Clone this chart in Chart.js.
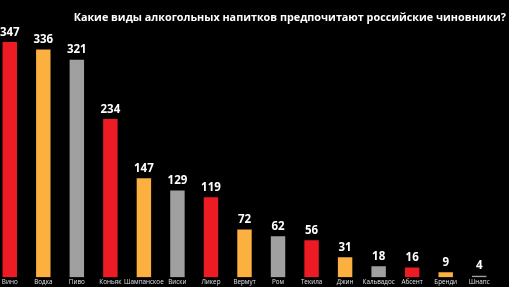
<!DOCTYPE html>
<html>
<head>
<meta charset="utf-8">
<script src="https://cdn.jsdelivr.net/npm/chart.js@4"></script>
<style>
  html, body { margin: 0; padding: 0; background: #000; overflow: hidden; }
  #wrap { position: absolute; left: -7px; top: 0; width: 513px; height: 287px; }
</style>
</head>
<body>
<div id="wrap"><canvas id="drinksChart"></canvas></div>
<script>
const drinks = ["Вино", "Водка", "Пиво", "Коньяк", "Шампанское", "Виски", "Ликер", "Вермут",
  "Ром", "Текила", "Джин", "Кальвадос", "Абсент", "Бренди", "Шнапс"];
const votes = [347, 336, 321, 234, 147, 129, 119, 72, 62, 56, 31, 18, 16, 9, 4];
const palette = ["#ed1c24", "#fbb040", "#a0a0a0"];

const barColors = drinks.map((d, i) => palette[i % 3]);

// draws the numbers above each bar
const valueLabels = {
  id: "valueLabels",
  afterDatasetsDraw(chart) {
    const ctx = chart.ctx;
    const meta = chart.getDatasetMeta(0);
    ctx.save();
    ctx.fillStyle = "#fff";
    ctx.font = "bold 11.5px 'Open Sans'";
    ctx.textAlign = "center";
    ctx.textBaseline = "bottom";
    meta.data.forEach((bar, i) => {
      ctx.fillText(votes[i], bar.x, bar.y - 3);
    });
    ctx.restore();
  }
};

new Chart(document.getElementById("drinksChart"), {
  type: "bar",
  data: {
    labels: drinks,
    datasets: [{
      data: votes,
      backgroundColor: barColors,
      borderColor: "rgba(0,0,0,0.25)",
      borderWidth: 1,
      categoryPercentage: 1,
      barPercentage: 0.49
    }]
  },
  options: {
    responsive: true,
    maintainAspectRatio: false,
    animation: false,
    layout: {
      padding: 0
    },
    plugins: {
      legend: { display: false },
      tooltip: { enabled: false },
      title: {
        display: true,
        text: "Какие виды алкогольных напитков предпочитают российские чиновники?",
        align: "end",
        color: "#fff",
        font: { family: "'Open Sans'", size: 10.8, weight: "bold" },
        padding: { top: 11, bottom: 0 }
      }
    },
    scales: {
      x: {
        grid: { display: false, drawTicks: false },
        border: { display: false },
        ticks: {
          color: "#e0e0e0",
          font: { family: "'Open Sans'", size: 6.3 },
          maxRotation: 0,
          autoSkip: false,
          padding: 1
        }
      },
      y: {
        position: "right",
        min: 0,
        max: 372,
        grid: { display: false, drawTicks: false },
        border: { display: false },
        ticks: { display: false },
        afterFit(scale) {
          scale.width = 10;
        }
      }
    }
  },
  plugins: [valueLabels]
});
</script>
</body>
</html>
